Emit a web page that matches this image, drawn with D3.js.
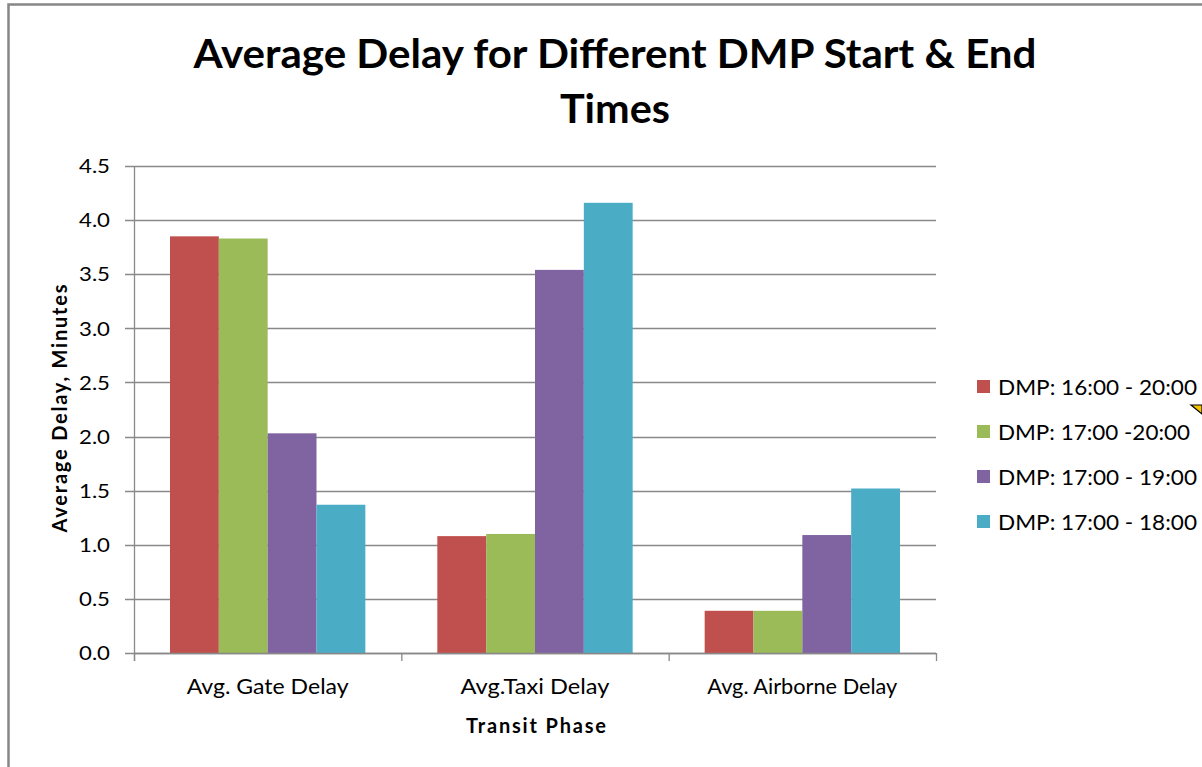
<!DOCTYPE html>
<meta charset="utf-8" />
<script src="https://d3js.org/d3.v7.min.js"></script>
<style>
  body { margin: 0; background: #fff; }
  text { font-family: Lato, "Open Sans", sans-serif; fill: #000; }
</style>
<div id="chart"></div>
<script>
  // data
  const categories = ["Avg. Gate Delay", "Avg.Taxi Delay", "Avg. Airborne Delay"];
  const seriesNames = ["DMP: 16:00 - 20:00", "DMP: 17:00 -20:00", "DMP: 17:00 - 19:00", "DMP: 17:00 - 18:00"];
  const dmp1620 = [3.85, 1.08, 0.39];
  const dmp1720 = [3.83, 1.10, 0.39];
  const dmp1719 = [2.03, 3.54, 1.09];
  const dmp1718 = [1.37, 4.16, 1.52];
  const yTicks = [0, 0.5, 1, 1.5, 2, 2.5, 3, 3.5, 4, 4.5];
  const colors = ["#C0504D", "#9BBB59", "#8064A2", "#4BACC6"];

  const allSeries = [dmp1620, dmp1720, dmp1719, dmp1718];

  const W = 1202, H = 767;
  const margin = { top: 166, left: 134, right: W - 936, bottom: H - 653 };
  const width = W - margin.left - margin.right,
    height = H - margin.top - margin.bottom;

  const svg = d3.select("#chart").append("svg")
    .attr("width", W).attr("height", H);

  // outer chart frame (runs off right and bottom)
  svg.append("path")
    .attr("d", `M8.5,${H + 2} V4.5 H${W + 2}`)
    .attr("fill", "none").attr("stroke", "#878787").attr("stroke-width", 2.5);

  const g = svg.append("g").attr("transform", `translate(${margin.left},${margin.top})`);

  const x0 = d3.scaleBand().domain(categories).range([0, width]).paddingInner(0).paddingOuter(0);
  const x1 = d3.scaleBand().domain(d3.range(seriesNames.length)).range([36, x0.bandwidth() - 36]);
  const y = d3.scaleLinear().domain([0, 4.5]).range([height, 0]);

  // gridlines
  g.append("g").selectAll("line").data(yTicks).join("line")
    .attr("x1", -9).attr("x2", width)
    .attr("y1", d => Math.round(y(d)) + 0.5).attr("y2", d => Math.round(y(d)) + 0.5)
    .attr("stroke", "#898989").attr("stroke-width", 1.3);

  // y axis labels
  g.append("g").selectAll("text").data(yTicks).join("text")
    .attr("x", -24).attr("y", d => y(d))
    .attr("dy", "0.36em").attr("text-anchor", "end")
    .style("font-size", "20px")
    .attr("textLength", 31).attr("lengthAdjust", "spacingAndGlyphs")
    .text(d => d.toFixed(1));

  // bars
  const groups = g.append("g").selectAll("g").data(categories).join("g")
    .attr("transform", d => `translate(${x0(d)},0)`);
  groups.selectAll("rect")
    .data((c, ci) => allSeries.map((s, si) => ({ si, v: s[ci] })))
    .join("rect")
    .attr("x", d => x1(d.si))
    .attr("width", x1.bandwidth())
    .attr("y", d => y(d.v))
    .attr("height", d => y(0) - y(d.v))
    .attr("fill", d => colors[d.si]);

  // y axis line
  g.append("line").attr("x1", 0.5).attr("x2", 0.5).attr("y1", 0).attr("y2", height + 8)
    .attr("stroke", "#898989").attr("stroke-width", 1.3);

  // x axis with category ticks
  g.append("line").attr("x1", 0).attr("x2", width).attr("y1", height + 0.5).attr("y2", height + 0.5)
    .attr("stroke", "#898989").attr("stroke-width", 1.3);
  const bounds = categories.map(c => x0(c)).concat([width]);
  g.append("g").selectAll("line").data(bounds).join("line")
    .attr("x1", d => d + 0.5).attr("x2", d => d + 0.5)
    .attr("y1", height).attr("y2", height + 8)
    .attr("stroke", "#898989").attr("stroke-width", 1.3);

  const catWidths = [162, 149, 190];
  g.append("g").selectAll("text").data(categories).join("text")
    .attr("x", d => x0(d) + x0.bandwidth() / 2)
    .attr("y", height + 41)
    .attr("text-anchor", "middle")
    .style("font-size", "22px")
    .attr("textLength", (d, i) => catWidths[i]).attr("lengthAdjust", "spacingAndGlyphs")
    .text(d => d);

  // axis titles
  g.append("text")
    .attr("x", width / 2 + 1).attr("y", height + 80)
    .attr("text-anchor", "middle")
    .style("font-size", "20px").style("font-weight", "bold")
    .attr("textLength", 140).attr("lengthAdjust", "spacing")
    .text("Transit Phase");

  svg.append("text")
    .attr("transform", `translate(67,${margin.top + height / 2 - 1}) rotate(-90)`)
    .attr("text-anchor", "middle")
    .style("font-size", "20px").style("font-weight", "bold")
    .attr("textLength", 248).attr("lengthAdjust", "spacing")
    .text("Average Delay, Minutes");

  // title
  const title = svg.append("text")
    .attr("text-anchor", "middle")
    .style("font-size", "41px").style("font-weight", "bold");
  title.append("tspan").attr("x", 615).attr("y", 68)
    .attr("textLength", 843).attr("lengthAdjust", "spacingAndGlyphs")
    .text("Average Delay for Different DMP Start & End");
  title.append("tspan").attr("x", 615).attr("y", 123)
    .attr("textLength", 110).attr("lengthAdjust", "spacingAndGlyphs")
    .text("Times");

  // legend
  const legWidths = [199, 192, 199, 199];
  const legend = svg.append("g").selectAll("g").data(seriesNames).join("g")
    .attr("transform", (d, i) => `translate(977,${387 + i * 45})`);
  legend.append("rect")
    .attr("x", 0).attr("y", -7).attr("width", 13).attr("height", 13)
    .attr("fill", (d, i) => colors[i]);
  legend.append("text")
    .attr("x", 21).attr("y", 0).attr("dy", "0.36em")
    .style("font-size", "21px")
    .attr("textLength", (d, i) => legWidths[i]).attr("lengthAdjust", "spacingAndGlyphs")
    .text(d => d);

  // small pointer artefact near legend
  svg.append("path")
    .attr("d", "M1191,405 L1202,405 L1202,414 Z")
    .attr("fill", "#F5C400").attr("stroke", "#000").attr("stroke-width", 1.2);
</script>
